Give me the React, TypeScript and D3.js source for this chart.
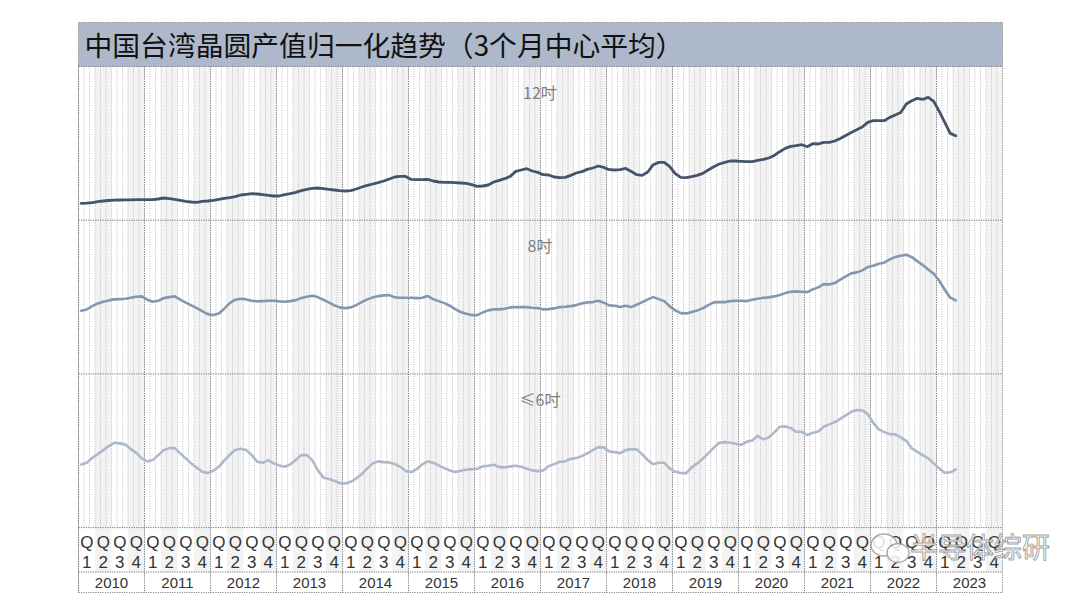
import * as d3 from 'd3'

// 3个月中心平均，各面板已归一化（无纵轴刻度），单位为面板内相对高度
const years = ['2010', '2011', '2012', '2013', '2014', '2015', '2016', '2017', '2018', '2019', '2020', '2021', '2022', '2023']
const quarters = ['1', '2', '3', '4']

const wafer12 = [
  16.8, 17, 17.5, 18.5, 19.2, 19.7, 20, 20.2, 20.3, 20.4, 20.5, 20.5,
  20.5, 20.5, 21.2, 22.2, 21.5, 20.8, 19.8, 18.8, 18.2, 17.8, 18.8, 19.2,
  19.8, 20.8, 21.8, 22.5, 23.5, 25.2, 25.8, 26.5, 26.2, 25.5, 24.8, 24.2,
  24.2, 25.5, 26.5, 27.8, 29.5, 30.8, 31.8, 32.2, 31.5, 30.8, 30.2, 29.5,
  29.2, 29.5, 31.2, 33.2, 34.8, 36.2, 37.5, 39.2, 41.2, 43.2, 43.8, 43.8,
  40.8, 40.5, 40.5, 40.8, 39.2, 38.2, 37.8, 37.8, 37.5, 37.2, 36.8, 35.5,
  33.8, 34.2, 35.2, 38.2, 39.8, 41.5, 43.8, 48.8, 50.2, 51.5, 49.2, 47.8,
  45.5, 45.2, 43.2, 42.5, 42.8, 44.8, 47.2, 48.5, 50.8, 52.2, 54.2, 52.8,
  50.5, 50.2, 50.5, 51.8, 48.8, 45.5, 44.8, 48.2, 55.5, 57.8, 57.8, 53.5,
  46.5, 42.8, 42.5, 43.5, 44.8, 46.8, 50.2, 53.5, 56.2, 57.8, 59.2, 59.2,
  58.8, 58.5, 58.5, 59.8, 60.8, 62.2, 64.8, 68.5, 71.8, 73.8, 74.5, 75.5,
  73.5, 76.5, 76.2, 77.8, 77.8, 79.2, 81.8, 84.8, 87.8, 90.5, 93.2, 97.8,
  99.5, 99.5, 99.5, 102.8, 105.2, 107.8, 116.2, 119.5, 121.8, 120.8, 122.8, 118.8,
  108.8, 97.8, 86.8, 84.5,
]

const wafer8 = [
  63.2, 64.5, 67.8, 70.5, 72.2, 73.5, 74.5, 74.8, 75.2, 76.2, 77.2, 77.5,
  74.2, 72.2, 73.2, 75.8, 76.8, 77.5, 74.2, 71.2, 68.5, 65.8, 62.8, 59.8,
  58.8, 60.5, 65.2, 70.8, 74.2, 75.2, 74.5, 73.2, 72.5, 72.8, 73.2, 73.2,
  72.5, 72.2, 72.8, 73.8, 75.8, 77.2, 78.2, 76.8, 74.2, 71.5, 68.5, 66.5,
  65.8, 66.5, 68.8, 71.8, 74.5, 76.5, 77.8, 78.5, 78.8, 76.5, 76.2, 76.2,
  76.2, 75.8, 76.2, 77.8, 74.8, 72.8, 70.8, 68.2, 64.8, 61.8, 60.2, 58.8,
  58.8, 61.5, 63.5, 64.5, 64.5, 65.2, 66.5, 66.8, 66.8, 66.8, 66.2, 65.8,
  64.5, 64.8, 65.5, 66.8, 67.2, 67.8, 68.8, 70.5, 71.5, 71.8, 73.2, 71.2,
  68.5, 68.2, 66.8, 68.2, 66.8, 69.2, 71.8, 74.5, 76.8, 74.8, 72.8, 67.5,
  63.5, 60.8, 60.5, 61.8, 63.5, 65.5, 68.8, 71.5, 71.8, 71.8, 72.8, 73.2,
  73.2, 72.8, 74.2, 75.2, 76.2, 76.5, 77.5, 78.8, 80.8, 82.2, 82.5, 82.2,
  81.8, 84.5, 86.5, 89.8, 89.5, 90.8, 94.2, 97.5, 100.5, 101.5, 103.5, 106.8,
  108.2, 110.2, 111.2, 114.5, 116.8, 118.2, 119.2, 116.8, 112.8, 108.8, 104.5, 100.2,
  93.2, 84.2, 76.2, 73.5,
]

const wafer6 = [
  63.2, 64.8, 69.8, 73.5, 77.5, 81.5, 84.8, 84.2, 83.2, 78.5, 74.8, 69.2,
  66.2, 67.5, 72.5, 77.5, 79.5, 79.5, 74.2, 69.2, 64.2, 59.8, 55.8, 54.5,
  56.8, 60.8, 67.2, 72.8, 77.5, 78.8, 77.5, 72.5, 65.8, 64.8, 67.5, 64.2,
  62.2, 60.8, 63.2, 67.5, 72.5, 72.5, 67.5, 57.5, 50.2, 48.5, 46.8, 44.5,
  44.2, 45.8, 49.2, 53.5, 59.2, 64.2, 66.2, 65.5, 65.2, 63.5, 60.8, 56.5,
  55.5, 58.5, 63.2, 66.2, 64.8, 62.2, 59.5, 57.2, 55.5, 56.8, 57.8, 58.5,
  58.8, 61.2, 61.8, 62.8, 60.5, 60.2, 61.2, 61.8, 60.8, 58.8, 57.2, 56.5,
  57.2, 61.5, 63.5, 65.8, 66.2, 68.8, 69.5, 71.5, 74.2, 77.5, 80.5, 80.2,
  76.2, 75.5, 74.5, 77.5, 78.5, 78.2, 73.2, 67.5, 63.5, 64.8, 64.8, 59.2,
  55.8, 54.5, 54.5, 60.2, 64.2, 68.8, 74.2, 79.8, 84.8, 85.5, 84.8, 83.8,
  82.8, 85.8, 87.2, 91.8, 88.2, 90.2, 95.2, 100.8, 101.2, 99.5, 95.8, 95.8,
  92.5, 94.8, 96.2, 100.8, 103.2, 105.5, 108.8, 112.2, 115.8, 117.5, 117.2, 113.5,
  104.8, 98.2, 95.5, 93.5, 93.2, 90.2, 86.8, 79.2, 75.8, 72.5, 69.2, 64.2,
  59.2, 54.8, 55.2, 58.2,
]

const panelNames = ['12吋', '8吋', '≤6吋']
const panelSeries = [wafer12, wafer8, wafer6]
const panelColors = ['#44546a', '#8497b0', '#adb9ca']

const title = '中国台湾晶圆产值归一化趋势（3个月中心平均）'

const W = 1080
const H = 594
const left = 78.5
const right = 1002.5
const titleTop = 22.5
const plotTop = 66.5
const panelH = 153.7
const plotBottom = plotTop + panelH * 3
const qRowBottom = 572
const yearRowBottom = 592.5
const cjk = '"Noto Sans CJK SC", "Microsoft YaHei", sans-serif'
const latin = '"Liberation Sans", Arial, sans-serif'

export default function App() {
  const nMonths = years.length * 12
  const x = d3.scaleLinear().domain([0, nMonths]).range([left, right])
  const months = d3.range(nMonths + 1)
  const quarterIdx = d3.range(years.length * 4)

  const panels = panelNames.map((name, i) => {
    const top = plotTop + i * panelH
    const y = d3.scaleLinear().domain([0, panelH]).range([top + panelH, top])
    const line = d3.line<number>().x((_, k) => x(k + 0.5)).y(v => y(v))
    return { name, top, y, path: line(panelSeries[i]) ?? '', color: panelColors[i] }
  })

  const dotted = '1.2,1.2'

  return (
    <svg width={W} height={H} style={{ position: 'absolute', left: 0, top: 0, background: '#fff' }}>
      {/* 季度底色 */}
      {quarterIdx.map(q => (
        q % 2 === 1 ? (
          <rect key={`qb${q}`} x={x(q * 3)} y={plotTop} width={x(3) - x(0)} height={qRowBottom - plotTop} fill="#f3f3f3" />
        ) : null
      ))}

      {/* 月度竖线 */}
      {months.filter(m => m % 12 !== 0).map(m => (
        <line key={`m${m}`} x1={x(m)} x2={x(m)} y1={plotTop} y2={plotBottom}
          stroke="#bdbdbd" strokeWidth={0.8} strokeDasharray={dotted} />
      ))}

      {/* 年度竖线 */}
      {years.map((_, i) => (
        <line key={`yl${i}`} x1={x(i * 12)} x2={x(i * 12)} y1={plotTop} y2={yearRowBottom}
          stroke="#666" strokeWidth={0.9} strokeDasharray={dotted} />
      ))}

      {/* 标题栏 */}
      <rect x={left} y={titleTop} width={right - left} height={plotTop - titleTop} fill="#adb9ca" />
      <text x={left + 6} y={titleTop + 33} fontFamily={cjk} fontSize={27.8} fill="#111">{title}</text>

      {/* 面板分隔 */}
      {[plotTop, plotTop + panelH, plotTop + panelH * 2, plotBottom, qRowBottom].map((yy, i) => (
        <line key={`h${i}`} x1={left} x2={right} y1={yy} y2={yy} stroke="#666" strokeWidth={0.9} strokeDasharray={dotted} />
      ))}

      {panels.map(p => (
        <g key={p.name}>
          <text x={x(nMonths / 2) - 0.5} y={p.top + 32} textAnchor="middle" fontFamily={cjk} fontSize={16} fill="#7f7f7f">{p.name}</text>
          <path d={p.path} fill="none" stroke={p.color} strokeWidth={p.name === '12吋' ? 2.8 : 2.6} strokeLinejoin="round" strokeLinecap="round" />
        </g>
      ))}

      {/* 季度标签 */}
      {quarterIdx.map(q => {
        const cx = x(q * 3 + 1.5)
        return (
          <g key={`ql${q}`} fontFamily={latin} fontSize={17} fill="#333" textAnchor="middle">
            <text x={cx} y={plotBottom + 20}>Q</text>
            <text x={cx} y={plotBottom + 40}>{quarters[q % 4]}</text>
          </g>
        )
      })}

      {/* 年份标签 */}
      {years.map((yr, i) => (
        <text key={`yt${i}`} x={x(i * 12 + 6)} y={yearRowBottom - 5} textAnchor="middle"
          fontFamily={latin} fontSize={15} fill="#333">{yr}</text>
      ))}

      {/* 外框 */}
      <rect x={left} y={titleTop} width={right - left} height={yearRowBottom - titleTop}
        fill="none" stroke="#777" strokeWidth={0.9} strokeDasharray={dotted} />

      {/* 水印 */}
      <g opacity={0.85}>
        <ellipse cx={884} cy={545} rx={13} ry={11} fill="#fff" stroke="#9a9a9a" strokeWidth={1.4} />
        <ellipse cx={898} cy={553} rx={11} ry={9.5} fill="#fff" stroke="#9a9a9a" strokeWidth={1.4} />
        <text x={910} y={558} fontFamily={cjk} fontSize={28} fill="#fff" stroke="#8f8f8f" strokeWidth={0.9}>半导体综研</text>
      </g>
    </svg>
  )
}
